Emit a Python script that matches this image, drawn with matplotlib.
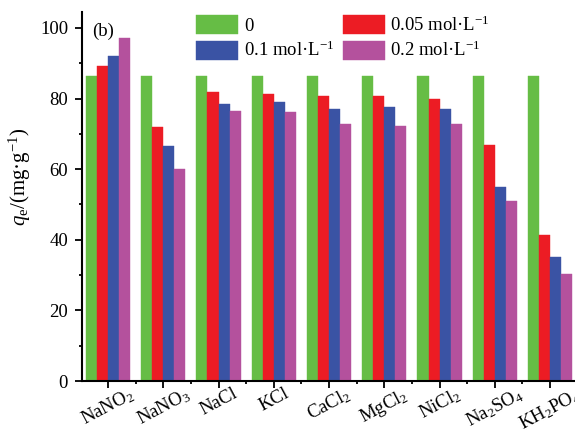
import matplotlib
matplotlib.use("Agg")
import matplotlib.pyplot as plt
import numpy as np
from matplotlib.ticker import MultipleLocator

plt.rcParams['font.family'] = ['Liberation Serif', 'DejaVu Serif']
plt.rcParams['mathtext.fontset'] = 'custom'
plt.rcParams['mathtext.rm'] = 'Liberation Serif'
plt.rcParams['mathtext.it'] = 'Liberation Serif:italic'
plt.rcParams['mathtext.bf'] = 'Liberation Serif:bold'

categories = [r'NaNO$_2$', r'NaNO$_3$', 'NaCl', 'KCl', r'CaCl$_2$', r'MgCl$_2$',
              r'NiCl$_2$', r'Na$_2$SO$_4$', r'KH$_2$PO$_4$']
series_labels = ['0', r'0.05 mol·L$^{-1}$', r'0.1 mol·L$^{-1}$', r'0.2 mol·L$^{-1}$']
v0 = [86.4, 86.4, 86.4, 86.4, 86.4, 86.4, 86.4, 86.4, 86.4]
v005 = [89.2, 72.0, 81.8, 81.4, 80.6, 80.6, 79.9, 66.7, 41.4]
v01 = [92.1, 66.6, 78.5, 78.9, 77.1, 77.5, 76.9, 54.8, 35.0]
v02 = [97.0, 60.1, 76.4, 76.1, 72.8, 72.1, 72.8, 51.0, 30.3]
colors = ['#66BD45', '#EC1C24', '#3A53A4', '#B4519D']

fig = plt.figure(figsize=(5.75, 4.32), dpi=100)
ax = fig.add_axes([82/575, 51/432, 1 - 82/575, (381-12)/432])

x = np.arange(len(categories))
w = 0.2
handles = []
for i, (vals, c, lab) in enumerate(zip([v0, v005, v01, v02], colors, series_labels)):
    h = ax.bar(x + (i - 1.5) * w, vals, width=w, color=c, label=lab,
               edgecolor=c, linewidth=0.3)
    handles.append(h)

ax.set_xlim(-0.47, 8.45)
ax.set_ylim(0, 104.5)
ax.yaxis.set_major_locator(MultipleLocator(20))
ax.yaxis.set_minor_locator(MultipleLocator(10))
ax.set_xticks(x)
ax.set_xticks(x[:-1] + 0.5, minor=True)
ax.set_xticklabels(categories, rotation=28, ha='center', fontsize=13.5)
ax.tick_params(axis='y', labelsize=13.5, pad=5)
ax.tick_params(which='major', direction='out', length=5, width=1.3)
ax.tick_params(which='minor', direction='out', length=2.5, width=1.3)
ax.tick_params(axis='x', which='major', pad=-2)
for s in ['top', 'right']:
    ax.spines[s].set_visible(False)
for s in ['left', 'bottom']:
    ax.spines[s].set_linewidth(1.5)

ax.set_ylabel(r'$q_{\rm e}$/(mg·g$^{-1}$)', fontsize=15)
ax.yaxis.set_label_coords(-0.099, (381 - 177) / 369)
ax.text(0.02, 0.97, '(b)', transform=ax.transAxes, fontsize=13.5, va='top', ha='left')

order = [0, 2, 1, 3]
leg = ax.legend([handles[i] for i in order], [series_labels[i] for i in order],
                ncol=2, frameon=False, fontsize=13.5, loc='upper left',
                bbox_to_anchor=(196/575, 1 - 15/432), bbox_transform=fig.transFigure,
                borderaxespad=0, borderpad=0, handlelength=2.25, handleheight=1.2,
                handletextpad=0.3, columnspacing=0.45, labelspacing=0.3)

fig.savefig('out.png', dpi=100)
